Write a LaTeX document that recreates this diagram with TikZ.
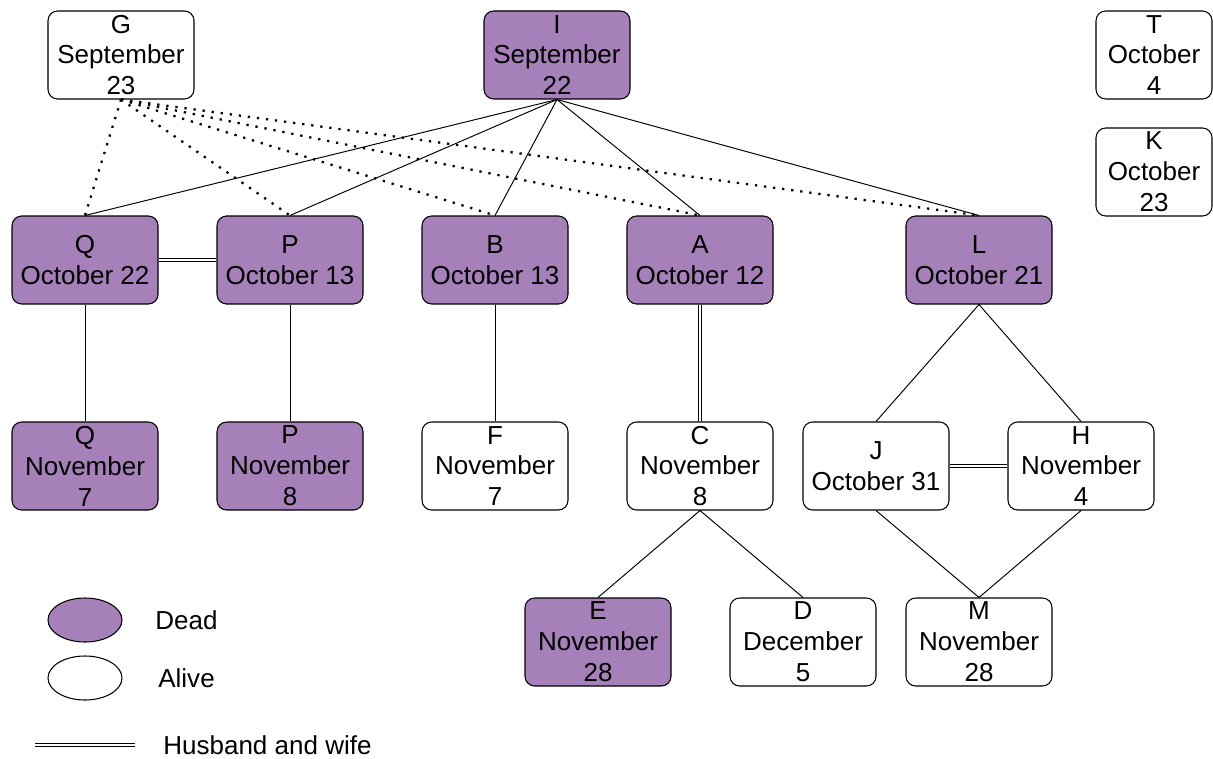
\documentclass[tikz,border=0pt]{standalone}
\usepackage{fontspec}
\setmainfont{Liberation Sans}
\usetikzlibrary{shapes.geometric}
\definecolor{deadfill}{HTML}{A680B8}
\tikzset{
  person/.style={draw,rounded corners=5.5pt,line width=0.6pt,align=center,
    minimum width=2.92cm,minimum height=1.76cm,inner sep=0pt,
    font=\fontsize{14.8}{17.6}\selectfont},
  dead/.style={person,fill=deadfill},
  alive/.style={person,fill=white},
  kin/.style={line width=0.55pt},
  godkin/.style={line width=1.3pt,dash pattern=on 1.3pt off 3.9pt},
  wed/.style={draw=black,double=white,double distance=1.5pt,line width=0.55pt},
  keytext/.style={anchor=west,inner sep=0pt,font=\fontsize{14.8}{17.6}\selectfont}
}
\begin{document}
\begin{tikzpicture}
  \useasboundingbox (0,0) rectangle (24.26,-15.16);
  % top row
  \node[alive] (g) at (2.42,-1.10) {G\\September\\23};
  \node[dead] (i) at (11.14,-1.10) {I\\September\\22};
  \node[alive,minimum width=2.32cm] (t) at (23.08,-1.10) {T\\October\\4};
  \node[alive,minimum width=2.32cm] (k) at (23.08,-3.44) {K\\October\\23};
  % second row
  \node[dead] (q1) at (1.70,-5.20) {Q\\October 22};
  \node[dead] (p1) at (5.80,-5.20) {P\\October 13};
  \node[dead] (b) at (9.90,-5.20) {B\\October 13};
  \node[dead] (a) at (14.00,-5.20) {A\\October 12};
  \node[dead] (l) at (19.58,-5.20) {L\\October 21};
  % third row
  \node[dead] (q2) at (1.70,-9.32) {Q\\November\\7};
  \node[dead] (p2) at (5.80,-9.32) {P\\November\\8};
  \node[alive] (f) at (9.90,-9.32) {F\\November\\7};
  \node[alive] (c) at (14.00,-9.32) {C\\November\\8};
  \node[alive] (j) at (17.52,-9.32) {J\\October 31};
  \node[alive] (h) at (21.62,-9.32) {H\\November\\4};
  % fourth row
  \node[dead] (e) at (11.96,-12.84) {E\\November\\28};
  \node[alive] (d) at (16.06,-12.84) {D\\December\\5};
  \node[alive] (m) at (19.58,-12.84) {M\\November\\28};

  \foreach \kid in {q1,p1,b,a,l}
    \draw[godkin] (g.south) -- (\kid.north);
  \foreach \kid in {q1,p1,b,a,l}
    \draw[kin] (i.south) -- (\kid.north);
  \draw[kin] (q1) -- (q2);
  \draw[kin] (p1) -- (p2);
  \draw[kin] (b) -- (f);
  \draw[kin] (l.south) -- (j.north);
  \draw[kin] (l.south) -- (h.north);
  \draw[kin] (c.south) -- (e.north);
  \draw[kin] (c.south) -- (d.north);
  \draw[kin] (j.south) -- (m.north);
  \draw[kin] (h.south) -- (m.north);
  \draw[wed] (q1) -- (p1);
  \draw[wed] (a) -- (c);
  \draw[wed] (j) -- (h);

  % legend
  \node[draw,ellipse,fill=deadfill,line width=0.6pt,minimum width=1.48cm,minimum height=0.88cm] (deadkey) at (1.70,-12.40) {};
  \node[draw,ellipse,fill=white,line width=0.6pt,minimum width=1.48cm,minimum height=0.88cm] (alivekey) at (1.70,-13.56) {};
  \node[keytext] (deadtxt) at (3.10,-12.40) {Dead};
  \node[keytext] (alivetxt) at (3.16,-13.56) {Alive};
  \coordinate (w1) at (0.70,-14.90);
  \coordinate (w2) at (2.70,-14.90);
  \draw[wed] (w1) -- (w2);
  \node[keytext] (wedtxt) at (3.26,-14.90) {Husband and wife};
\end{tikzpicture}
\end{document}
